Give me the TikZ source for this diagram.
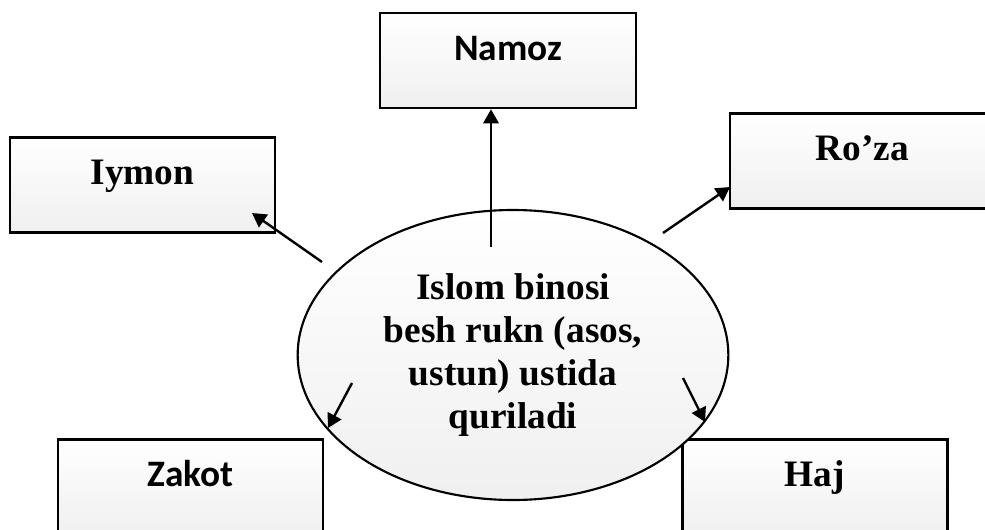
\documentclass[tikz,border=0pt]{standalone}
\usepackage{fontspec}
\setmainfont{Liberation Serif}
\newfontfamily\calibri{Carlito}
\usetikzlibrary{arrows.meta,shapes.geometric}

\begin{document}
\begin{tikzpicture}[x=0.75pt, y=-0.75pt,
    pillar/.style={draw, line width=2pt, top color=white, bottom color=black!6,
      minimum width=198.75pt, inner xsep=0pt, inner ysep=0pt,
      text height=35.25pt, text depth=36pt,
      font=\fontsize{28}{32}\selectfont\bfseries},
    link/.style={-{Triangle[length=10.5pt,width=11.5pt]}, line width=1.8pt}]
    % --- page frame; the two lower boxes run off the bottom edge ---
    \useasboundingbox (0,0) rectangle (985,529);
    \clip (0,0) rectangle (985,529);

    % --- the five pillars, text sits high in each box ---
    \node[pillar, minimum width=192pt,
          font=\fontsize{28}{32}\selectfont\bfseries\calibri] (namoz) at (508,60.5) {Namoz};
    \node[pillar] (iymon) at (142.5,185) {Iymon};
    \node[pillar] (roza) at (862.5,161) {Ro’za};
    \node[pillar, font=\fontsize{28}{32}\selectfont\bfseries\calibri] (zakot) at (190.5,487) {Zakot};
    \node[pillar] (haj) at (815,487) {Haj};

    % --- centre ellipse, on top of the box corners ---
    \node[ellipse, draw, line width=1.6pt, top color=white, bottom color=black!6,
          minimum width=323pt, minimum height=217.5pt, inner sep=0pt, align=center,
          font=\fontsize{28}{32.25}\selectfont\bfseries] (islom) at (513,355)
      {Islom binosi\\besh rukn (asos,\\ustun) ustida\\quriladi};

    % --- arrow tails (free ends) ---
    \coordinate (tn) at (491,247);
    \coordinate (ti) at (322,262);
    \coordinate (hi) at (252,213);
    \coordinate (tr) at (663,233);
    \coordinate (hr) at (730,187);
    \coordinate (tz) at (352,383);
    \coordinate (hz) at (328,428);
    \coordinate (th) at (683,378);
    \coordinate (hh) at (705,422);

    \draw[link] (tn) -- (tn |- namoz.south);
    \draw[link] (ti) -- (hi);
    \draw[link] (tr) -- (hr);
    \draw[link] (tz) -- (hz);
    \draw[link] (th) -- (hh);
\end{tikzpicture}
\end{document}
